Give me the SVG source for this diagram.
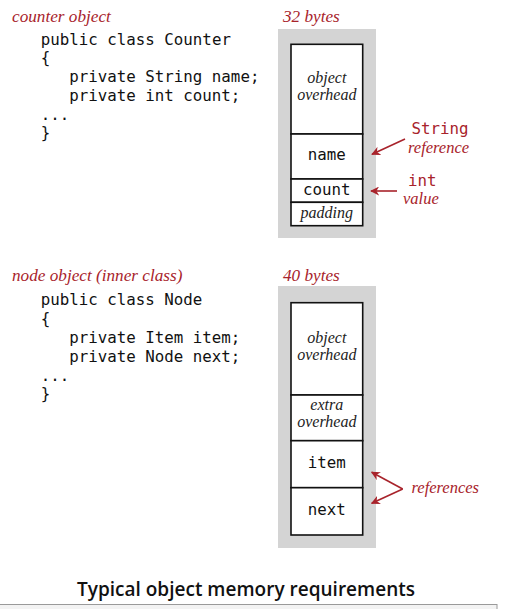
<svg xmlns="http://www.w3.org/2000/svg" width="506" height="609" viewBox="0 0 506 609">
<style>
.lab{font-family:"Liberation Serif",serif;font-style:italic;font-size:16.5px;fill:#a8232b}
.hd{font-size:17.2px}
.code{font-family:"DejaVu Sans Mono",monospace;font-size:15.8px;fill:#111}
.rcode{font-family:"DejaVu Sans Mono",monospace;font-size:15.8px;fill:#a8232b}
.it{font-family:"Liberation Serif",serif;font-style:italic;font-size:16px;fill:#222}
.gray{fill:#d4d4d4}
.cell{fill:#fff;stroke:#111;stroke-width:1.6}
.arr{stroke:#a8232b;stroke-width:1.6;fill:none}
</style>
<defs>
<marker id="ah" viewBox="0 0 10 10" refX="9" refY="5" markerWidth="9" markerHeight="9" markerUnits="userSpaceOnUse" orient="auto">
<path d="M0,0 L10,5 L0,10 L3,5 Z" fill="#a8232b"/>
</marker>
</defs>

<g id="counter-code">
<text class="lab hd" x="12" y="22">counter object</text>
<text class="code" x="40.7" y="44.5">public class Counter</text>
<text class="code" x="40.7" y="63">{</text>
<text class="code" x="69.2" y="82">private String name;</text>
<text class="code" x="69.2" y="101">private int count;</text>
<text class="code" x="40.7" y="119.5">...</text>
<text class="code" x="40.7" y="138">}</text>
</g>

<g id="counter-memory">
<text class="lab hd" x="283" y="22">32 bytes</text>
<rect class="gray" x="278" y="29" width="98" height="209"/>
<rect class="cell" x="291" y="44.3" width="71.7" height="89.7"/>
<rect class="cell" x="291" y="134" width="71.7" height="45"/>
<rect class="cell" x="291" y="179" width="71.7" height="23.3"/>
<rect class="cell" x="291" y="202.3" width="71.7" height="23.4"/>
<text class="it" x="326.8" y="83" text-anchor="middle">object</text>
<text class="it" x="326.8" y="100" text-anchor="middle">overhead</text>
<text class="code" x="326.8" y="160" text-anchor="middle">name</text>
<text class="code" x="326.8" y="195" text-anchor="middle">count</text>
<text class="it" x="326.8" y="217.5" text-anchor="middle">padding</text>
</g>

<g id="counter-notes">
<text class="rcode" x="411.5" y="133.5">String</text>
<text class="lab" x="408" y="153">reference</text>
<text class="rcode" x="408" y="186">int</text>
<text class="lab" x="403" y="204">value</text>
</g>

<g id="node-code">
<text class="lab hd" x="12" y="281">node object (inner class)</text>
<text class="code" x="40.7" y="305">public class Node</text>
<text class="code" x="40.7" y="324">{</text>
<text class="code" x="69.2" y="343">private Item item;</text>
<text class="code" x="69.2" y="362">private Node next;</text>
<text class="code" x="40.7" y="380.5">...</text>
<text class="code" x="40.7" y="399">}</text>
</g>

<g id="node-memory">
<text class="lab hd" x="283" y="281">40 bytes</text>
<rect class="gray" x="278" y="286" width="98" height="262"/>
<rect class="cell" x="291" y="302.7" width="71.7" height="92.3"/>
<rect class="cell" x="291" y="395" width="71.7" height="45.7"/>
<rect class="cell" x="291" y="440.7" width="71.7" height="47"/>
<rect class="cell" x="291" y="487.7" width="71.7" height="47.3"/>
<text class="it" x="326.8" y="343" text-anchor="middle">object</text>
<text class="it" x="326.8" y="360" text-anchor="middle">overhead</text>
<text class="it" x="326.8" y="410" text-anchor="middle">extra</text>
<text class="it" x="326.8" y="427" text-anchor="middle">overhead</text>
<text class="code" x="326.8" y="468" text-anchor="middle">item</text>
<text class="code" x="326.8" y="515" text-anchor="middle">next</text>
</g>

<g id="node-notes">
<text class="lab" x="411.5" y="493">references</text>
</g>

<g id="connectors">
<line class="arr" x1="405" y1="139" x2="372" y2="154.3" marker-end="url(#ah)"/>
<line class="arr" x1="397" y1="191" x2="371" y2="191" marker-end="url(#ah)"/>
<line class="arr" x1="402.7" y1="489" x2="371.7" y2="472.3" marker-end="url(#ah)"/>
<line class="arr" x1="402.7" y1="489" x2="371.7" y2="503.3" marker-end="url(#ah)"/>
</g>

<g id="caption">
<text x="77" y="596" textLength="338" lengthAdjust="spacingAndGlyphs" style="font-family:'Open Sans',sans-serif;font-weight:600;font-size:19.5px;fill:#111">Typical object memory requirements</text>
<rect x="-1" y="604.5" width="498" height="10" fill="#f3f3f3" stroke="#9a9a9a" stroke-width="1"/>
</g>
</svg>
